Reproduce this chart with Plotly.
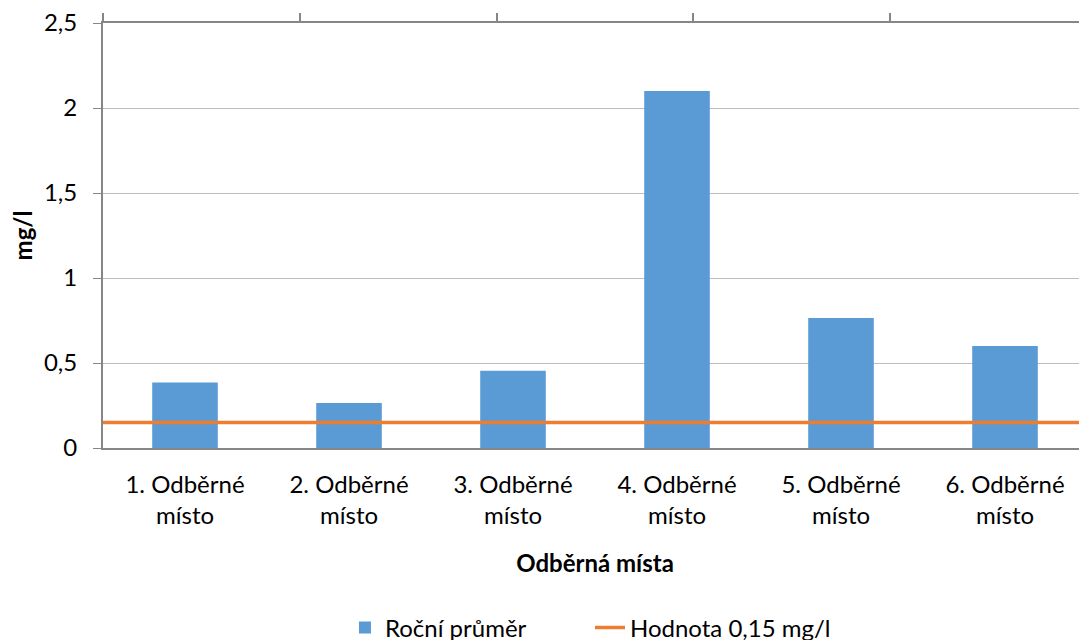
import plotly.graph_objects as go

categories = ["1. Odběrné<br>místo", "2. Odběrné<br>místo", "3. Odběrné<br>místo",
              "4. Odběrné<br>místo", "5. Odběrné<br>místo", "6. Odběrné<br>místo"]
rocni_prumer = [0.385, 0.265, 0.455, 2.10, 0.765, 0.60]
limit_x = [0, 1, 2, 3, 4, 5]
limit_values = [0.15, 0.15, 0.15, 0.15, 0.15, 0.15]
y_ticks = [0, 0.5, 1, 1.5, 2, 2.5]

FONT = "Lato"
FS = 24
fig = go.Figure()
fig.add_trace(go.Bar(x=categories, y=rocni_prumer, name="Roční průměr",
                     marker=dict(color="#5b9bd5", line=dict(width=0)), width=0.4,
                     xaxis="x", yaxis="y", legend="legend"))
fig.add_trace(go.Scatter(x=limit_x, y=limit_values, name="Hodnota 0,15 mg/l",
                         mode="lines", line=dict(color="#ed7d31", width=3.5),
                         xaxis="x2", yaxis="y", legend="legend2"))

fig.update_layout(
    width=1087, height=640,
    margin=dict(l=95, r=8, t=15, b=200, autoexpand=False),
    plot_bgcolor="white", paper_bgcolor="white",
    separators=", ",
    font=dict(family=FONT, size=FS, color="#000000"),
    showlegend=True,
    legend=dict(orientation="h", x=0.2459, xanchor="left", y=-0.4235, yanchor="middle",
                font=dict(size=FS)),
    legend2=dict(orientation="h", x=0.4949, xanchor="left", y=-0.4235, yanchor="middle",
                 font=dict(size=FS)),
    xaxis=dict(showline=True, linecolor="#868686", linewidth=2, ticks="",
               showgrid=False, tickfont=dict(size=FS), automargin=False,
               ticklabelstandoff=14,
               title=dict(text="<b>Odběrná místa</b>", font=dict(size=FS), standoff=27)),
    xaxis2=dict(overlaying="x", side="top", range=[0, 5], tickvals=limit_x,
                showticklabels=False, ticks="outside", ticklen=8, tickcolor="#868686",
                tickwidth=1.5, showline=True, linecolor="#868686", linewidth=2,
                showgrid=False, zeroline=False, automargin=False),
    yaxis=dict(range=[0, 2.5], tickvals=y_ticks, showline=True, linecolor="#868686",
               linewidth=2, ticks="outside", ticklen=8, tickcolor="#868686",
               gridcolor="#bdbdbd", gridwidth=1, zeroline=False, automargin=False,
               ticklabelstandoff=11, tickfont=dict(size=FS), ticklabeloverflow="allow",
               title=dict(text="<b>mg/l</b>", font=dict(size=FS), standoff=11)),
)
fig.write_html("out.html")
